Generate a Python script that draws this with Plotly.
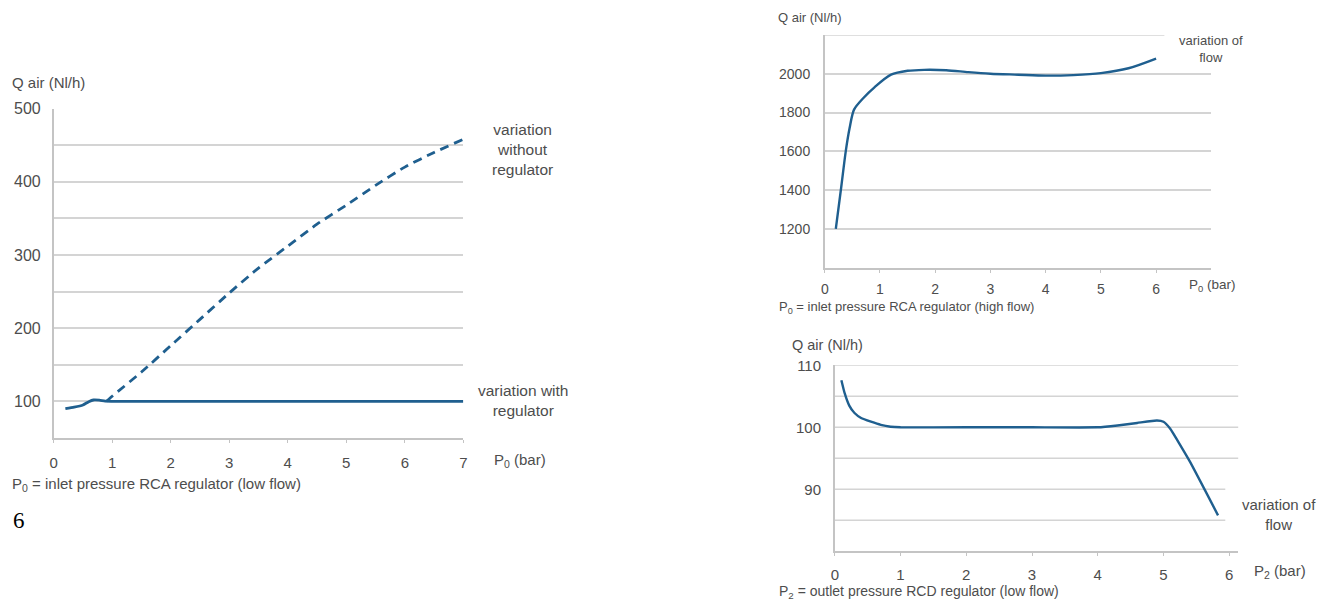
import plotly.graph_objects as go

W, H = 1332, 605
# the page shows the figure slightly offset and scaled; positions below are
# given in reference-picture pixels and mapped back to figure pixels
SX, SY, SC = 11.5, 17.0, 0.99

# ---------------- data ----------------
# Left chart: RCA regulator (low flow)
reg_p = [0.2, 0.35, 0.5, 0.6, 0.68, 0.78, 0.88, 1.0, 2, 3, 4, 5, 6, 7]
reg_q = [90, 92, 95, 99.5, 101.8, 101.5, 100.2, 100, 100, 100, 100, 100, 100, 100]
noreg_p = [0.9, 1.0, 1.5, 2.0, 2.5, 3.0, 3.5, 4.0, 4.5, 5.0, 5.5, 6.0, 6.5, 7.0]
noreg_q = [100, 107, 140, 176, 212, 248, 282, 312, 342, 368, 395, 420, 440, 458]
left_xticks = [0, 1, 2, 3, 4, 5, 6, 7]
left_yticks = [100, 200, 300, 400, 500]

# Top-right chart: RCA regulator (high flow)
hf_p = [0.2, 0.3, 0.38, 0.45, 0.53, 0.7, 0.9, 1.2, 1.5, 1.8, 2.2, 2.6, 3.0, 3.5, 4.0, 4.5, 5.0, 5.5, 6.0]
hf_q = [1200, 1420, 1600, 1720, 1815, 1875, 1930, 1995, 2015, 2020, 2018, 2008, 2000, 1995, 1990, 1993, 2003, 2028, 2078]
tr_xticks = [0, 1, 2, 3, 4, 5, 6]
tr_yticks = [1200, 1400, 1600, 1800, 2000]

# Bottom-right chart: RCD regulator (low flow)
rcd_p = [0.1, 0.15, 0.22, 0.3, 0.4, 0.55, 0.7, 0.85, 1.0, 2.0, 3.0, 4.0, 4.3, 4.6, 4.9, 5.0, 5.1, 5.4, 5.83]
rcd_q = [107.6, 105.5, 103.5, 102.3, 101.5, 100.9, 100.4, 100.1, 100.0, 100.0, 100.0, 100.0, 100.3, 100.7, 101.1, 100.9, 99.8, 94.5, 85.8]
br_xticks = [0, 1, 2, 3, 4, 5, 6]
br_yticks = [90, 100, 110]

# ---------------- style ----------------
LINE = "#1f5f8f"
GRID = "#d4d4d4"
AXIS = "#c4c4c4"
TXT = "#4d4d4d"
FONT = "Liberation Sans, Arial, sans-serif"


def px(x):
    return ((x - SX) / SC) / W


def py(y):
    return 1 - ((y - SY) / SC) / H


fig = go.Figure()

fig.add_trace(go.Scatter(x=noreg_p, y=noreg_q, mode="lines", xaxis="x", yaxis="y",
                         line=dict(color=LINE, width=2.8, dash="9px,6px", shape="spline", smoothing=0.6)))
fig.add_trace(go.Scatter(x=reg_p, y=reg_q, mode="lines", xaxis="x", yaxis="y",
                         line=dict(color=LINE, width=2.8, shape="spline", smoothing=0.5)))
fig.add_trace(go.Scatter(x=hf_p, y=hf_q, mode="lines", xaxis="x2", yaxis="y2",
                         line=dict(color=LINE, width=2.4, shape="spline", smoothing=0.8)))
fig.add_trace(go.Scatter(x=rcd_p, y=rcd_q, mode="lines", xaxis="x3", yaxis="y3",
                         line=dict(color=LINE, width=2.4, shape="spline", smoothing=0.4)))

common_x = dict(showline=True, linecolor=AXIS, linewidth=1.5, ticks="outside", ticklen=3,
                tickcolor=AXIS, showgrid=False, zeroline=False, fixedrange=True)
common_y = dict(showline=True, linecolor=AXIS, linewidth=1.5, ticks="", zeroline=False,
                gridcolor=GRID, gridwidth=1.5, fixedrange=True)

fig.update_layout(
    width=W, height=H,
    margin=dict(l=0, r=0, t=0, b=0),
    paper_bgcolor="white", plot_bgcolor="white",
    showlegend=False,
    xaxis=dict(common_x, domain=[px(53), px(461)], range=[0, 7], tickvals=left_xticks,
               anchor="y", tickfont=dict(family=FONT, color=TXT, size=15), ticklabelstandoff=7),
    yaxis=dict(common_y, domain=[py(440), py(109)], range=[50, 500], tickvals=left_yticks,
               anchor="x", tickfont=dict(family=FONT, color=TXT, size=16), ticklabelstandoff=8),
    xaxis2=dict(common_x, domain=[px(821), px(1206)], range=[0, 7], tickvals=tr_xticks,
                anchor="y2", tickfont=dict(family=FONT, color=TXT, size=14), ticklabelstandoff=5),
    yaxis2=dict(common_y, domain=[py(269), py(35)], range=[1000, 2200], tickvals=tr_yticks,
                anchor="x2", tickfont=dict(family=FONT, color=TXT, size=14), ticklabelstandoff=10),
    xaxis3=dict(common_x, domain=[px(831), px(1233)], range=[0, 6.14], tickvals=br_xticks,
                anchor="y3", tickfont=dict(family=FONT, color=TXT, size=15), ticklabelstandoff=6),
    yaxis3=dict(common_y, domain=[py(554), py(367)], range=[80, 110], tickvals=br_yticks,
                anchor="x3", showgrid=False, tickfont=dict(family=FONT, color=TXT, size=15),
                ticklabelstandoff=9),
)
fig.update_yaxes(minor=dict(dtick=50, tick0=0, showgrid=True, gridcolor=GRID, gridwidth=1.5),
                 selector=dict(anchor="x"))

shapes = []
# top gridline of the top-right chart (shortened next to the label)
shapes.append(dict(type="line", xref="x2", yref="y2", x0=0, x1=6.15, y0=2200, y1=2200,
                   line=dict(color=GRID, width=1.5), layer="below"))
# gridlines of the bottom-right chart
for val, xend in [(85, 5.94), (90, 5.94), (95, 6.14), (100, 6.14), (105, 6.14), (110, 6.14)]:
    shapes.append(dict(type="line", xref="x3", yref="y3", x0=0, x1=xend, y0=val, y1=val,
                       line=dict(color=GRID, width=1.5), layer="below"))
fig.update_layout(shapes=shapes)


def ann(text, x, y, size, xanchor="left", color=TXT, family=FONT, align="left"):
    fig.add_annotation(text=text, x=px(x), y=py(y), xref="paper", yref="paper",
                       xanchor=xanchor, yanchor="middle", showarrow=False, align=align,
                       font=dict(family=family, size=size, color=color))


# left chart texts
ann("Q air (Nl/h)", 10, 83, 15)
ann("variation<br>without<br>regulator", 520, 150, 15.5, xanchor="center", align="center")
ann("variation with<br>regulator", 520, 402, 15.5, xanchor="center", align="center")
ann("P<sub>0</sub> (bar)", 490, 463, 15)
ann("P<sub>0</sub> = inlet pressure RCA regulator (low flow)", 10, 487, 15)
ann("6", 11, 523, 23, color="black", family="Liberation Serif, Times New Roman, serif")

# top-right chart texts
ann("Q air (Nl/h)", 772, 18, 13)
ann("variation of<br>flow", 1206, 49, 13, xanchor="center", align="center")
ann("P<sub>0</sub> (bar)", 1182, 287, 13.5)
ann("P<sub>0</sub> = inlet pressure RCA regulator (high flow)", 773, 309, 13)

# bottom-right chart texts
ann("Q air (Nl/h)", 786, 347, 14.5)
ann("variation of<br>flow", 1273, 517, 15, xanchor="center", align="center")
ann("P<sub>2</sub> (bar)", 1247, 574, 15)
ann("P<sub>2</sub> = outlet pressure RCD regulator (low flow)", 773, 595, 14)

fig.write_html("out.html")
